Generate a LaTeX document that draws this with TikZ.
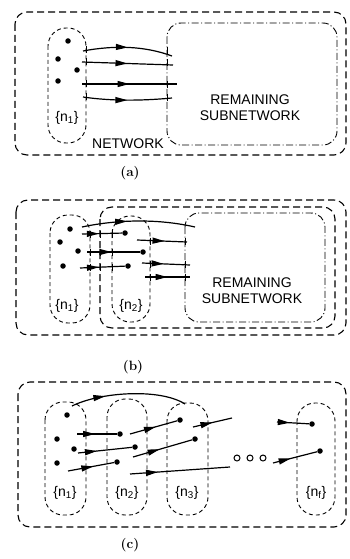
\documentclass[tikz,border=0pt]{standalone}
\usepackage{fontspec}
\newfontfamily\letterfont{Liberation Sans}
\usetikzlibrary{arrows.meta,decorations.markings}
\def\crossat(#1,#2){\draw[crossmark] (#1,#2-3.5) -- (#1,#2+3.5);}
\tikzset{
  netline/.style={dash pattern=on 7pt off 4pt, line width=1.1pt, rounded corners=12pt},
  setline/.style={dash pattern=on 4pt off 3pt, line width=0.9pt, rounded corners=18pt},
  restline/.style={dash pattern=on 7pt off 2.5pt on 1pt off 2.5pt, line width=0.9pt, rounded corners=14pt},
  dot/.style={circle, fill=black, inner sep=0pt, minimum size=5.5pt},
  hole/.style={circle, draw, line width=1pt, inner sep=0pt, minimum size=6pt},
  flow/.style={line width=1.2pt, postaction={decorate}, decoration={markings, mark=at position #1 with {\arrow{Triangle[length=12pt,width=6pt]}}}},
  flow/.default=0.5,
  crossmark/.style={line width=0.8pt},
  lbl/.style={font=\letterfont\fontsize{14}{16}\selectfont, inner sep=0pt, align=center},
  panelcap/.style={font=\bfseries\fontsize{13.5}{16}\selectfont}
}
\begin{document}
\begin{tikzpicture}[x=1pt,y=-1pt]
		%%%%% START %%%%%
		\useasboundingbox (0,0) rectangle (349,559);
		
		%%%%% (a) %%%%%
		\draw[netline] (15,12) rectangle (346,155);
		\draw[setline] (48,28) rectangle (86,143);
		\draw[restline] (167,23) rectangle (337,145);
		
		\node[dot] (a1) at (68,41) {};
		\node[dot] (a2) at (58,59) {};
		\node[dot] (a3) at (77,70) {};
		\node[dot] (a4) at (58,81) {};
		
		\coordinate (a1s) at (83,51);  \coordinate (a1e) at (172,56);
		\coordinate (a2s) at (82,62);  \coordinate (a2e) at (173,65);
		\coordinate (a3s) at (82,84);  \coordinate (a3e) at (177,84);
		\coordinate (a4s) at (83,97);  \coordinate (a4e) at (172,98);
		\draw[flow] (a1s) .. controls (115,45) and (145,46) .. (a1e);
		\draw[flow] (a2s) -- (a2e);
		\draw[flow] (a3s) -- (a3e);
		\draw[flow] (a4s) .. controls (110,101) and (140,101) .. (a4e);
		\foreach \y in {50,62,84,97} {\crossat(86,\y) \crossat(167,\y+1)}
		
		\node[lbl] (an1) at (67,118) {\{n\textsubscript{1}\}};
		\node[lbl] (anet) at (128,144) {NETWORK};
		\node[lbl] (arem) at (250,108) {REMAINING\\SUBNETWORK};
		\node[panelcap] (acap) at (130,173) {(a)};
		
		%%%%% (b) %%%%%
		\draw[netline] (16,200) rectangle (346,335);
		\draw[netline] (100,207) rectangle (335,328);
		\draw[setline] (50,215) rectangle (90,323);
		\draw[setline] (112,216) rectangle (150,322);
		\draw[restline] (185,213) rectangle (325,322);
		
		\node[dot] (b1) at (70,229) {};
		\node[dot] (b2) at (60,242) {};
		\node[dot] (b3) at (78,251) {};
		\node[dot] (b4) at (63,266) {};
		\node[dot] (b5) at (125,233) {};
		\node[dot] (b6) at (143,252) {};
		\node[dot] (b7) at (128,266) {};
		
		\coordinate (b1s) at (82,227); \coordinate (b1e) at (195,227);
		\coordinate (b2s) at (82,234);
		\coordinate (b3s) at (87,252);
		\coordinate (b4s) at (80,268);
		\coordinate (b5s) at (137,240); \coordinate (b5e) at (187,242);
		\coordinate (b6s) at (142,263); \coordinate (b6e) at (190,265);
		\coordinate (b7s) at (145,277); \coordinate (b7e) at (190,277);
		\draw[flow=0.4] (b1s) .. controls (120,219) and (160,219) .. (b1e);
		\draw[flow=0.42] (b2s) -- (b5);
		\draw[flow=0.46] (b3s) -- (b6);
		\draw[flow=0.42] (b4s) -- (b7);
		\draw[flow=0.55] (b5s) -- (b5e);
		\draw[flow=0.45] (b6s) -- (b6e);
		\draw[flow=0.5] (b7s) -- (b7e);
		\foreach \y in {234,252,267} {\crossat(90,\y) \crossat(100,\y) \crossat(112,\y)}
		\foreach \y in {241,264,277} {\crossat(150,\y) \crossat(185,\y)}
		
		\node[lbl] (bn1) at (67,306) {\{n\textsubscript{1}\}};
		\node[lbl] (bn2) at (131,306) {\{n\textsubscript{2}\}};
		\node[lbl] (brem) at (252,291) {REMAINING\\SUBNETWORK};
		\node[panelcap] (bcap) at (133,367) {(b)};
		
		%%%%% (c) %%%%%
		\draw[netline] (18,382) rectangle (346,527);
		\draw[setline] (45,402) rectangle (86,515);
		\draw[setline] (107,399) rectangle (147,515);
		\draw[setline] (167,403) rectangle (208,515);
		\draw[setline] (297,403) rectangle (335,515);
		
		\node[dot] (c1) at (67,415) {};
		\node[dot] (c2) at (57,439) {};
		\node[dot] (c3) at (74,449) {};
		\node[dot] (c4) at (57,463) {};
		\node[dot] (c5) at (120,434) {};
		\node[dot] (c6) at (135,447) {};
		\node[dot] (c7) at (117,462) {};
		\node[dot] (c8) at (180,420) {};
		\node[dot] (c9) at (195,439) {};
		\node[dot] (c10) at (312,424) {};
		\node[dot] (c11) at (320,451) {};
		
		\coordinate (c1s) at (72,406);  \coordinate (c1e) at (185,404);
		\coordinate (c5s) at (77,434);
		\coordinate (c6s) at (78,453);
		\coordinate (c7s) at (68,471);
		\coordinate (c8s) at (130,434);
		\coordinate (c9s) at (133,457);
		\coordinate (c10s) at (193,427); \coordinate (c10e) at (232,418);
		\coordinate (c11s) at (130,474); \coordinate (c11e) at (230,467);
		\coordinate (c12s) at (277,422);
		\coordinate (c13s) at (273,463);
		\draw[flow=0.3] (c1s) .. controls (100,392) and (160,388) .. (c1e);
		\draw[flow=0.45] (c5s) -- (c5);
		\draw[flow=0.35] (c6s) -- (c6);
		\draw[flow=0.55] (c7s) -- (c7);
		\draw[flow=0.55] (c8s) -- (c8);
		\draw[flow=0.45] (c9s) -- (c9);
		\draw[flow=0.5] (c10s) -- (c10e);
		\draw[flow=0.28] (c11s) -- (c11e);
		\draw[flow=0.4] (c12s) -- (c10);
		\draw[flow=0.4] (c13s) -- (c11);
		
		\node[hole] (o1) at (237,458) {};
		\node[hole] (o2) at (250,458) {};
		\node[hole] (o3) at (263,458) {};
		
		\node[lbl] (cn1) at (65,493) {\{n\textsubscript{1}\}};
		\node[lbl] (cn2) at (127,493) {\{n\textsubscript{2}\}};
		\node[lbl] (cn3) at (187,493) {\{n\textsubscript{3}\}};
		\node[lbl] (cnf) at (316,493) {\{n\textsubscript{f}\}};
		\node[panelcap] (ccap) at (130,545) {(c)};
		
		%%%%% END %%%%%
	\end{tikzpicture}
\end{document}
